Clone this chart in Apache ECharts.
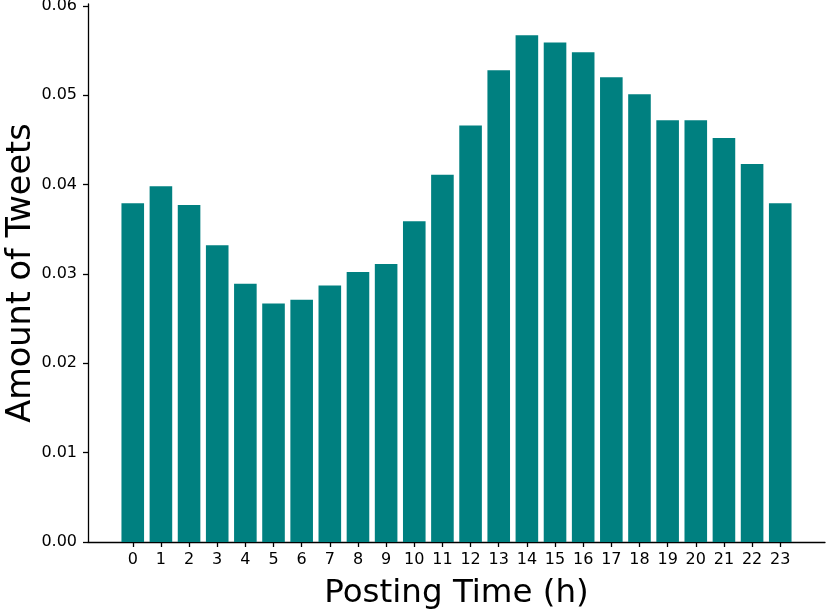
<!DOCTYPE html>
<html>
<head>
<meta charset="utf-8">
<title>Posting Time</title>
<script src="https://cdn.jsdelivr.net/npm/echarts@6/dist/echarts.min.js"></script>
<style>
  html, body { margin: 0; padding: 0; background: #fff; }
  #chart { width: 831px; height: 610px; }
</style>
</head>
<body>
<div id="chart"></div>
<script>
// hours of the day
const hours = [0, 1, 2, 3, 4, 5, 6, 7, 8, 9, 10, 11, 12, 13, 14, 15, 16, 17, 18, 19, 20, 21, 22, 23];
// share of tweets per hour
const amounts = [0.0379, 0.0398, 0.0377, 0.0332, 0.0289, 0.0267, 0.0271, 0.0287, 0.0302, 0.0311,
  0.0359, 0.0411, 0.0466, 0.0528, 0.0567, 0.0559, 0.0548, 0.0520, 0.0501, 0.0472,
  0.0472, 0.0452, 0.0423, 0.0379];
const yTicks = [0, 0.01, 0.02, 0.03, 0.04, 0.05, 0.06];

const chart = echarts.init(document.getElementById('chart'));
const font = 'DejaVu Sans';

const option = {
  animation: false,
  backgroundColor: '#fff',
  grid: { left: 88, right: 6, top: 4, bottom: 68, outerBoundsMode: 'none' },
  xAxis: {
    type: 'value',
    min: -1.59,
    max: 24.59,
    name: 'Posting Time (h)',
    nameLocation: 'middle',
    nameGap: 35,
    nameMoveOverlap: false,
    nameTextStyle: { fontFamily: font, fontSize: 32.5, color: '#000' },
    axisLine: { show: true, onZero: false, lineStyle: { color: '#000', width: 1.3 } },
    axisTick: { show: true, length: 5, customValues: hours, lineStyle: { color: '#000', width: 1.3 } },
    axisLabel: { customValues: hours, margin: 10, fontFamily: font, fontSize: 16, color: '#000' },
    splitLine: { show: false }
  },
  yAxis: {
    type: 'value',
    min: 0,
    max: 0.0602,
    name: 'Amount of Tweets',
    nameLocation: 'middle',
    nameGap: 50,
    nameRotate: 90,
    nameMoveOverlap: false,
    nameTextStyle: { fontFamily: font, fontSize: 33.5, color: '#000' },
    axisLine: { show: true, onZero: false, lineStyle: { color: '#000', width: 1.3 } },
    axisTick: { show: true, length: 5, customValues: yTicks, lineStyle: { color: '#000', width: 1.3 } },
    axisLabel: {
      customValues: yTicks,
      margin: 11,
      fontFamily: font,
      fontSize: 16,
      color: '#000',
      formatter: v => v.toFixed(2)
    },
    splitLine: { show: false }
  },
  series: [{
    type: 'bar',
    barWidth: 22.6,
    itemStyle: { color: '#008080' },
    data: hours.map((h, i) => [h, amounts[i]])
  }]
};

chart.setOption(option);
window.onresize = () => {
  chart.resize();
};
</script>
</body>
</html>
